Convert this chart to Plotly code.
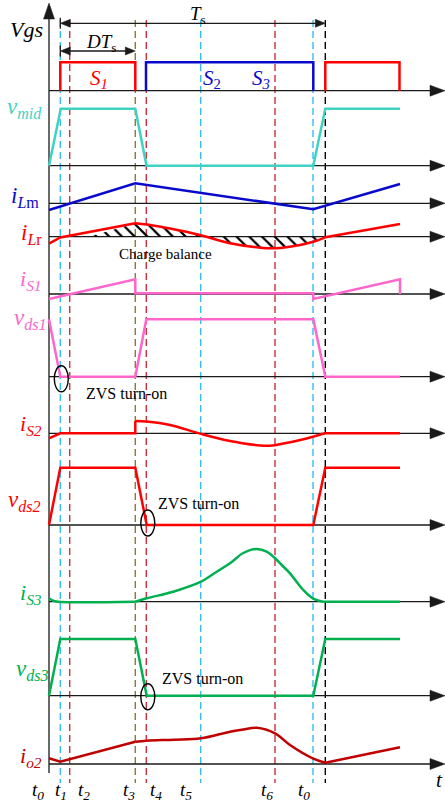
import plotly.graph_objects as go

W, H = 445, 806
X0 = 49.0          # pixel column of the time origin (vertical axis)
FONT = "Liberation Serif"

# ---------------- data (time units with t0 = 0; amplitudes in drawing units) ----------------
# key instants: t0, t1, t2, t3, t4, t5, t6, t0', end-of-period marker
t_inst = [0.0, 11.3, 20.7, 86.3, 97.3, 151.7, 226.0, 264.0, 276.3]
inst_labels = ["t<sub>0</sub>", "t<sub>1</sub>", "t<sub>2</sub>", "t<sub>3</sub>", "t<sub>4</sub>",
               "t<sub>5</sub>", "t<sub>6</sub>", "t<sub>0</sub>"]

# gate signals
s1_t = [11.3, 11.3, 86.3, 86.3]
s1_v = [0, 28.4, 28.4, 0]
s23_t = [97.0, 97.0, 264.3, 264.3]
s23_v = [0, 28.4, 28.4, 0]
s1b_t = [276.3, 276.3, 350.5, 350.5]
s1b_v = [0, 28.4, 28.4, 0]

# midpoint voltage
vmid_t = [0, 11.8, 86.3, 97.5, 264.3, 276.3, 351]
vmid_v = [0, 57, 57, 0, 0, 57, 57]

# magnetizing current
ilm_t = [0, 86.3, 264.3, 351]
ilm_v = [-6.7, 20.0, -6.0, 19.3]

# resonant current (linear / resonant / linear)
ilr_a_t = [0, 11.3, 86.3]
ilr_a_v = [-7.0, -0.8, 13.4]
ilr_b_t = [86.3, 101, 121, 151, 181, 211, 226, 251, 264.3, 276.3]
ilr_b_v = [13.4, 11.7, 8.2, 1.7, -6.6, -11.0, -11.6, -8.3, -5.0, -0.6]
ilr_c_t = [276.3, 351]
ilr_c_v = [-0.6, 12.7]
ilr_zero = [40.0, 156.0, 272.0]   # bounds of the hatched charge-balance areas

# S1 current / voltage
is1_t = [0, 86.3, 86.3, 264.3, 264.3, 351, 351]
is1_v = [-5.0, 14.7, 0.8, 0.8, -5.0, 14.7, 0]
vds1_t = [0, 11.3, 86.3, 97.3, 264.3, 276.3, 351]
vds1_v = [57.4, 0, 0, 57.4, 57.4, 0, 0]

# S2 current / voltage
is2_a_t = [0, 11.3, 86.3, 86.3]
is2_a_v = [-5.0, 0, 0, 12.3]
is2_b_t = [86.3, 97.3, 121, 151, 181, 211, 221, 251, 264, 276.3]
is2_b_v = [12.3, 11.7, 8.3, -0.3, -7.7, -12.2, -12.4, -6.7, -3.4, 0]
is2_c_t = [276.3, 351]
is2_c_v = [0, 0]
vds2_t = [0, 11.3, 86.3, 97.7, 264.3, 276.3, 351]
vds2_v = [0, 57.3, 57.3, 0, 0, 57.3, 57.3]

# S3 current / voltage
is3_a_t = [0, 4, 9, 86.3]
is3_a_v = [3.4, 1.0, 0, 0]
is3_b_t = [86.3, 97.7, 124.3, 152, 167.7, 181, 194.3, 207.7, 217.7, 226, 232.7, 241, 254.3, 263.7, 274.3]
is3_b_v = [0, 3.4, 10.0, 20.0, 30.0, 38.4, 48.7, 52.7, 50.0, 43.4, 36.7, 28.4, 11.7, 3.4, 0]
is3_c_t = [274.3, 351]
is3_c_v = [0, 0]
vds3_t = [0, 11.3, 86.3, 97.7, 264.3, 276.3, 351]
vds3_v = [0, 56.7, 56.7, 0, 0, 56.7, 56.7]

# output rectifier current
io2_a_t = [0, 11.3, 86.3]
io2_a_v = [5.7, 2.3, 22.3]
io2_b_t = [86.3, 97.7, 125, 152, 181, 194.3, 207.7, 226, 241, 263.7, 276.3]
io2_b_v = [22.3, 23.3, 24.3, 25.7, 32.3, 34.5, 36.3, 30.7, 19.0, 5.7, 1.3]
io2_c_t = [276.3, 351]
io2_c_v = [1.3, 16.7]

# ---------------- layout (pixel rows of each zero line) ----------------
rows = dict(vgs=90.7, vmid=165.7, ilm=203.3, ilr=236.7, is1=294.0, vds1=376.7,
            is2=433.3, vds2=525.0, is3=601.7, vds3=695.7, io2=764.0)

RED = "#FF0000"
BLUE = "#0A0ACC"
TURQ = "#3FD2C3"
PINK = "#FF66CC"
GREEN = "#00B050"
DRED = "#C00000"
CYAN = "#36BDF2"
DASHRED = "#C8323A"
OLIVE = "#8F7A2E"


def dx(p):
    return p - X0


def dy(q):
    return -q


fig = go.Figure()


def add(t, v, row, color, shape="linear", width=2.5):
    base = rows[row]
    fig.add_trace(go.Scatter(x=t, y=[dy(base) + val for val in v], mode="lines",
                             line=dict(color=color, width=width, shape=shape, smoothing=1.0),
                             hoverinfo="skip", showlegend=False))


# hatched charge-balance areas
pts = list(zip(ilr_a_t + ilr_b_t[1:], ilr_a_v + ilr_b_v[1:]))
for z0, z1 in [(ilr_zero[0], ilr_zero[1]), (ilr_zero[1], ilr_zero[2])]:
    inner = [(t, v) for t, v in pts if z0 < t < z1]
    ht = [z0] + [p[0] for p in inner] + [z1, z0]
    hv = [0] + [p[1] for p in inner] + [0, 0]
    fig.add_trace(go.Scatter(x=ht, y=[dy(rows["ilr"]) + v for v in hv], mode="lines",
                             line=dict(width=0, color="rgba(0,0,0,0)"), fill="toself",
                             fillcolor="rgba(0,0,0,0)",
                             fillpattern=dict(shape="\\", fgcolor="#000000", fgopacity=1,
                                              bgcolor="rgba(0,0,0,0)", size=9, solidity=0.25),
                             hoverinfo="skip", showlegend=False))

add(s1_t, s1_v, "vgs", RED)
add(s23_t, s23_v, "vgs", BLUE)
add(s1b_t, s1b_v, "vgs", RED)
add(vmid_t, vmid_v, "vmid", TURQ)
add(ilm_t, ilm_v, "ilm", BLUE)
add(ilr_a_t, ilr_a_v, "ilr", RED)
add(ilr_b_t, ilr_b_v, "ilr", RED, "spline")
add(ilr_c_t, ilr_c_v, "ilr", RED)
add(is1_t, is1_v, "is1", PINK)
add(vds1_t, vds1_v, "vds1", PINK)
add(is2_a_t, is2_a_v, "is2", RED)
add(is2_b_t, is2_b_v, "is2", RED, "spline")
add(is2_c_t, is2_c_v, "is2", RED)
add(vds2_t, vds2_v, "vds2", RED)
add(is3_a_t, is3_a_v, "is3", GREEN, "spline")
add(is3_b_t, is3_b_v, "is3", GREEN, "spline")
add(is3_c_t, is3_c_v, "is3", GREEN)
add(vds3_t, vds3_v, "vds3", GREEN)
add(io2_a_t, io2_a_v, "io2", DRED)
add(io2_b_t, io2_b_v, "io2", DRED, "spline")
add(io2_c_t, io2_c_v, "io2", DRED)

shapes = []
AX = "#1a1a1a"
# vertical dashed instant markers
dash_cols = [None, CYAN, DASHRED, OLIVE, DASHRED, CYAN, DASHRED, CYAN, "black"]
for t, c in zip(t_inst, dash_cols):
    if c is None:
        continue
    shapes.append(dict(type="line", x0=t, x1=t, y0=dy(20), y1=dy(783), layer="below",
                       line=dict(color=c, width=1.4, dash="7px,4px")))

# horizontal axes with arrows
for r, yb in rows.items():
    shapes.append(dict(type="line", x0=dx(49), x1=dx(432), y0=dy(yb), y1=dy(yb), layer="below",
                       line=dict(color=AX, width=1.3)))
    shapes.append(dict(type="path", layer="below",
                       path=f"M {dx(445)},{dy(yb)} L {dx(430)},{dy(yb - 5.5)} L {dx(430)},{dy(yb + 5.5)} Z",
                       fillcolor=AX, line=dict(color=AX, width=0.5)))
# vertical axis
shapes.append(dict(type="line", x0=dx(49), x1=dx(49), y0=dy(17), y1=dy(773), layer="below",
                   line=dict(color=AX, width=1.3)))
shapes.append(dict(type="path", layer="below",
                   path=f"M {dx(49)},{dy(3)} L {dx(43.5)},{dy(19)} L {dx(54.5)},{dy(19)} Z",
                   fillcolor=AX, line=dict(color=AX, width=0.5)))

# Ts and DTs dimension arrows
for (xa, xb, yy) in [(60.3, 325.3, 23.3), (60.3, 135.3, 51.0)]:
    shapes.append(dict(type="line", x0=dx(xa + 4), x1=dx(xb - 4), y0=dy(yy), y1=dy(yy),
                       line=dict(color=AX, width=1.3)))
    shapes.append(dict(type="path", path=f"M {dx(xa)},{dy(yy)} L {dx(xa + 10)},{dy(yy - 4)} L {dx(xa + 10)},{dy(yy + 4)} Z",
                       fillcolor=AX, line=dict(color=AX, width=0.5)))
    shapes.append(dict(type="path", path=f"M {dx(xb)},{dy(yy)} L {dx(xb - 10)},{dy(yy - 4)} L {dx(xb - 10)},{dy(yy + 4)} Z",
                       fillcolor=AX, line=dict(color=AX, width=0.5)))
    shapes.append(dict(type="line", x0=dx(xa), x1=dx(xa), y0=dy(yy - 5.5), y1=dy(yy + 5.5),
                       line=dict(color=AX, width=1.3)))

# ZVS ellipses
for (cx, cy) in [(61.3, 378.8), (147.8, 523.0), (147.8, 696.7)]:
    shapes.append(dict(type="circle", x0=dx(cx - 7), x1=dx(cx + 7), y0=dy(cy - 13), y1=dy(cy + 13),
                       line=dict(color="black", width=1.4)))

ann = []


def text(px, py, s, size, color="black", xanchor="center"):
    ann.append(dict(x=dx(px), y=dy(py), text=s, showarrow=False, xanchor=xanchor, yanchor="middle",
                    font=dict(family=FONT, size=size, color=color)))


# signal labels
text(45, 29, "<i>Vgs</i>", 22, "black", "right")
text(44, 108, "<i>v<sub>mid</sub></i>", 23, TURQ, "right")
text(41, 197, "<i>i<sub>L</sub></i><sub>m</sub>", 23, BLUE, "right")
text(44, 234, "<i>i<sub>L</sub></i><sub>r</sub>", 23, RED, "right")
text(44, 280, "<i>i<sub>S1</sub></i>", 22, PINK, "right")
text(49, 319, "<i>v<sub>ds1</sub></i>", 23, PINK, "right")
text(44, 425, "<i>i<sub>S2</sub></i>", 22, RED, "right")
text(43, 501, "<i>v<sub>ds2</sub></i>", 23, RED, "right")
text(44, 594, "<i>i<sub>S3</sub></i>", 22, GREEN, "right")
text(51, 670, "<i>v<sub>ds3</sub></i>", 23, GREEN, "right")
text(44, 757, "<i>i<sub>o2</sub></i>", 22, DRED, "right")

# gate labels
text(99, 79, "<i>S<sub>1</sub></i>", 21, RED)
text(212, 79, "<i>S</i><sub>2</sub>", 21, BLUE)
text(261, 79, "<i>S<sub>3</sub></i>", 21, BLUE)
text(198, 15, "<i>T</i><sub>s</sub>", 19)
text(101, 43, "<i>DT</i><sub>s</sub>", 19)

# annotations
text(165, 254, "Charge balance", 15)
text(126, 393, "ZVS turn-on", 16)
text(198, 503, "ZVS turn-on", 16)
text(202, 678, "ZVS turn-on", 16)

# time labels
lab_px = [38, 61, 84, 129, 156, 186, 267, 304]
for lx, lt in zip(lab_px, inst_labels):
    text(lx, 791, "<i>" + lt + "</i>", 19)
text(434, 780, "<i>t</i>", 21, "black", "left")

fig.update_layout(
    width=W, height=H, margin=dict(l=0, r=0, t=0, b=0),
    paper_bgcolor="white", plot_bgcolor="white",
    xaxis=dict(range=[dx(0), dx(W)], visible=False, fixedrange=True),
    yaxis=dict(range=[dy(H), dy(0)], visible=False, fixedrange=True),
    shapes=shapes, annotations=ann, showlegend=False,
)

fig.write_html("out.html")
